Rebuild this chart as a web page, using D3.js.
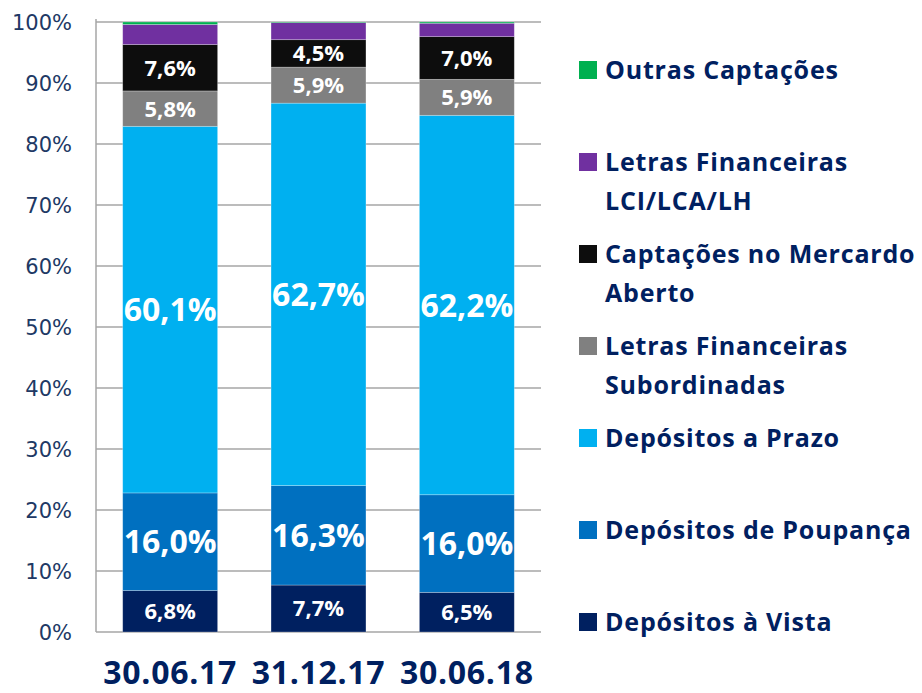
<!DOCTYPE html>
<meta charset="utf-8">
<style>
body { margin: 0; background: #fff; }
.tick-label { font: 21px "DejaVu Sans", sans-serif; fill: #203864; }
.seg-label { font-family: "Open Sans", sans-serif; font-weight: 700; fill: #fff; }
.cat-label { font: 700 32px "Open Sans", sans-serif; fill: #002060; letter-spacing: 0.7px; }
.legend text { font: 700 25px "Open Sans", sans-serif; fill: #002060; letter-spacing: 0.8px; }
</style>
<body>
<script src="https://d3js.org/d3.v7.min.js"></script>
<script>

// periods on the x axis
var periods = ["30.06.17", "31.12.17", "30.06.18"];

// series, bottom to top of each stack
var series = ["Depósitos à Vista", "Depósitos de Poupança", "Depósitos a Prazo",
  "Letras Financeiras Subordinadas", "Captações no Mercardo Aberto",
  "Letras Financeiras LCI/LCA/LH", "Outras Captações"];

var vista    = [6.8, 7.7, 6.5],
    poupanca = [16.0, 16.3, 16.0],
    prazo    = [60.1, 62.7, 62.2],
    subord   = [5.8, 5.9, 5.9],
    mercado  = [7.6, 4.5, 7.0],
    lci      = [3.3, 2.8, 2.2],
    outras   = [0.4, 0.1, 0.2];

var colors = ["#002060", "#0070C0", "#00B0F0", "#808080", "#0D0D0D", "#7030A0", "#00B050"];

// which series get a label, and how big
var labelSize = [22, 32, 32, 22, 22, 0, 0];

// legend, top to bottom (indexes into series), with line breaks
var legendOrder = [6, 5, 4, 3, 2, 1, 0];
var legendLines = {
  6: ["Outras Captações"],
  5: ["Letras Financeiras", "LCI/LCA/LH"],
  4: ["Captações no Mercardo", "Aberto"],
  3: ["Letras Financeiras", "Subordinadas"],
  2: ["Depósitos a Prazo"],
  1: ["Depósitos de Poupança"],
  0: ["Depósitos à Vista"]
};

var width = 922, height = 693;
var x0 = 96, x1 = 541, yTop = 22, yBot = 632;

var cols = [vista, poupanca, prazo, subord, mercado, lci, outras];
var table = periods.map(function(p, i) {
  var row = {period: p};
  series.forEach(function(s, j) { row[s] = cols[j][i]; });
  return row;
});

var stacked = d3.stack().keys(series)(table);

var x = d3.scaleBand().domain(periods).range([x0, x1])
    .paddingInner(0.36).paddingOuter(0.18);
var y = d3.scaleLinear().domain([0, 100]).range([yBot, yTop]);

var svg = d3.select("body").append("svg")
    .attr("width", width)
    .attr("height", height);

// gridlines
svg.append("g").selectAll("line")
  .data(y.ticks(10))
  .enter().append("line")
    .attr("x1", x0).attr("x2", x1)
    .attr("y1", function(d) { return y(d); })
    .attr("y2", function(d) { return y(d); })
    .attr("stroke", "#A6A6A6")
    .attr("stroke-width", 1.5);

svg.append("line")
    .attr("x1", x0).attr("x2", x0)
    .attr("y1", yTop - 3).attr("y2", yBot)
    .attr("stroke", "#A6A6A6")
    .attr("stroke-width", 1.5);

// y tick labels
svg.append("g").selectAll("text")
  .data(y.ticks(10))
  .enter().append("text")
    .attr("class", "tick-label")
    .attr("x", 72)
    .attr("y", function(d) { return y(d); })
    .attr("dy", "0.36em")
    .attr("text-anchor", "end")
    .text(function(d) { return d + "%"; });

// bars
var layer = svg.append("g").selectAll("g")
  .data(stacked)
  .enter().append("g")
    .attr("fill", function(d, i) { return colors[i]; });

layer.selectAll("rect")
  .data(function(d) { return d; })
  .enter().append("rect")
    .attr("x", function(d) { return x(d.data.period); })
    .attr("y", function(d) { return y(d[1]); })
    .attr("width", x.bandwidth())
    .attr("height", function(d) { return y(d[0]) - y(d[1]); })
    .attr("stroke", "rgba(255,255,255,0.35)")
    .attr("stroke-width", 0.75);

// segment labels
stacked.forEach(function(s, i) {
  if (!labelSize[i]) return;
  svg.append("g").selectAll("text")
    .data(s)
    .enter().append("text")
      .attr("class", "seg-label")
      .style("font-size", labelSize[i] + "px")
      .attr("x", function(d) { return x(d.data.period) + x.bandwidth() / 2; })
      .attr("y", function(d) { return (y(d[0]) + y(d[1])) / 2; })
      .attr("dy", "0.36em")
      .attr("text-anchor", "middle")
      .text(function(d) { return (d[1] - d[0]).toFixed(1).replace(".", ",") + "%"; });
});

// category labels
svg.append("g").selectAll("text")
  .data(periods)
  .enter().append("text")
    .attr("class", "cat-label")
    .attr("x", function(d) { return x(d) + x.bandwidth() / 2; })
    .attr("y", 684)
    .attr("text-anchor", "middle")
    .text(function(d) { return d; });

// legend
var legend = svg.append("g").attr("class", "legend");
legendOrder.forEach(function(k, i) {
  var cy = 70 + i * 92;
  legend.append("rect")
      .attr("x", 579).attr("y", cy - 9)
      .attr("width", 18).attr("height", 18)
      .attr("fill", colors[k]);
  legendLines[k].forEach(function(line, j) {
    legend.append("text")
        .attr("x", 605)
        .attr("y", cy + j * 38.5)
        .attr("dy", "0.36em")
        .text(line);
  });
});

</script>
